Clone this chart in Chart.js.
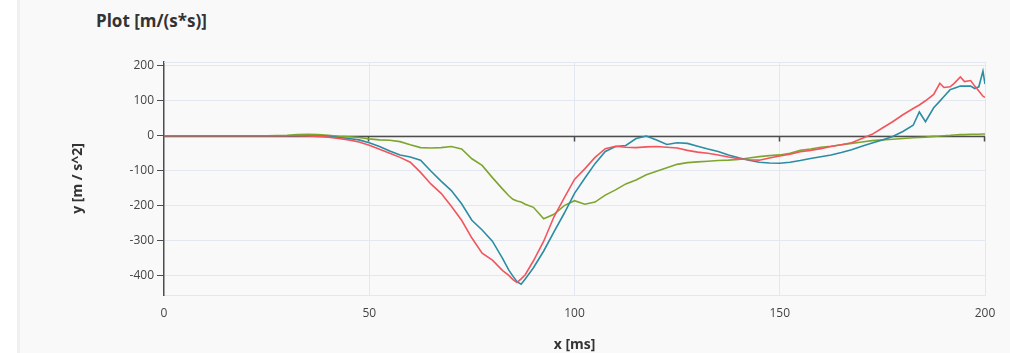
<!DOCTYPE html>
<html>
<head>
<meta charset="utf-8">
<script src="https://cdn.jsdelivr.net/npm/chart.js@4.4.1/dist/chart.umd.min.js"></script>
<style>
  html, body { margin: 0; padding: 0; background: #ffffff; width: 1010px; height: 353px; overflow: hidden; }
  #panel { position: absolute; left: 17px; top: 0; width: 990px; height: 353px; background: #f9f9f9; border-left: 3px solid #f0f0f0; }
  #title { position: absolute; left: 76px; top: 10px; font-family: "Open Sans", sans-serif; font-weight: 700; font-size: 17px; line-height: 22px; color: #333; white-space: nowrap; }
  #chart { position: absolute; left: 0; top: 40px; }
</style>
</head>
<body>
<div id="panel">
  <div id="title">Plot [m/(s*s)]</div>
  <canvas id="chart" width="990" height="313"></canvas>
</div>
<script>
// ---- data ----
const xs = [
  0, 5, 10, 15, 20, 25, 30, 32.5, 35, 37.5,
  40, 42.5, 45, 47.5, 50, 52.5, 55, 57.5, 60, 62.5,
  65, 67.5, 70, 72.5, 75, 77.5, 80, 82.5, 84, 85,
  86, 87, 88, 90, 92.5, 95, 97.5, 100, 102.5, 105,
  107.5, 110, 112.5, 115, 117.5, 120, 122.5, 125, 127.5, 130,
  132.5, 135, 137.5, 140, 142.5, 145, 147.5, 150, 152.5, 155,
  157.5, 160, 162.5, 165, 167.5, 170, 172.5, 175, 177.5, 180,
  182.5, 184, 185.5, 187.5, 189, 190, 191.5, 192.5, 194, 195,
  196.5, 197.5, 198.5, 199.5, 200
];
const redSeries = [
  0, 0, 0, 0, 0, 0, 0, 0, -1, -2,
  -4, -8, -12, -18, -27, -39, -50, -62, -76, -105,
  -138, -165, -202, -242, -293, -336, -356, -386, -400, -412,
  -420, -410, -398, -358, -302, -232, -178, -125, -95, -62,
  -37, -30, -33, -34, -32, -31, -33, -35, -42, -47,
  -50, -55, -61, -66, -69, -70, -64, -58, -53, -46,
  -42, -37, -31, -26, -20, -8, 4, 22, 40, 60,
  78, 88, 100, 118, 150, 138, 140, 150, 168, 155,
  158, 142, 128, 113, 110
];
const tealSeries = [
  0, 0, 0, 0, 0, 0, 0, 0, 0, -1,
  -2, -5, -8, -12, -20, -31, -44, -55, -61, -70,
  -101, -130, -157, -195, -242, -270, -302, -352, -385, -402,
  -418, -425, -410, -378, -330, -275, -222, -165, -122, -80,
  -45, -31, -28, -8, -1, -12, -25, -20, -22, -30,
  -38, -45, -55, -63, -70, -76, -78, -79, -76, -71,
  -65, -60, -55, -48, -40, -30, -21, -12, -2, 12,
  30, 68, 40, 80, 99, 112, 132, 136, 142, 142,
  142, 135, 140, 185, 148
];
const greenSeries = [
  0, 0, 0, 0, 0, 0, 1, 3, 4, 3,
  1, -2, -3, -5, -9, -12, -13, -17, -26, -34,
  -35, -34, -31, -38, -66, -85, -120, -153, -172, -182,
  -187, -190, -196, -205, -238, -225, -200, -186, -196, -190,
  -170, -155, -138, -127, -112, -102, -92, -82, -77, -75,
  -73, -71, -70, -68, -64, -60, -57, -55, -50, -42,
  -38, -33, -30, -26, -22, -18, -14, -12, -10, -8,
  -6, -5, -4, -2, -1, 0, 1, 2, 3, 3,
  4, 4, 4, 5, 5
];
const yTickValues = [-400, -300, -200, -100, 0, 100, 200];
const xTickValues = [0, 50, 100, 150, 200];
const xRange = [0, 200];
const yRange = [-456, 211];

// ---- styling ----
const gridColor = '#e2e7f0';
const axisColor = '#4d4d4d';
const font = '"Open Sans", sans-serif';

const toPoints = (ys) => xs.map((x, i) => ({ x: x, y: ys[i] }));

const zeroAxisPlugin = {
  id: 'zeroAxis',
  beforeDatasetsDraw(chart) {
    const { ctx, chartArea, scales } = chart;
    const x = scales.x, y = scales.y;
    ctx.save();
    ctx.strokeStyle = gridColor;
    ctx.lineWidth = 1;
    ctx.beginPath();
    ctx.moveTo(chartArea.left, Math.round(chartArea.top) + 0.5);
    ctx.lineTo(chartArea.right, Math.round(chartArea.top) + 0.5);
    ctx.stroke();
    const py = Math.round(y.getPixelForValue(0)) + 0.5;
    ctx.strokeStyle = axisColor;
    ctx.lineWidth = 1.5;
    ctx.beginPath();
    ctx.moveTo(chartArea.left, py);
    ctx.lineTo(chartArea.right, py);
    xTickValues.forEach(v => {
      if (v === 0) return;
      const px = Math.round(x.getPixelForValue(v)) - 0.5;
      ctx.moveTo(px, py);
      ctx.lineTo(px, py + 5);
    });
    ctx.stroke();
    ctx.restore();
  }
};

new Chart(document.getElementById('chart'), {
  type: 'line',
  data: {
    datasets: [
      { data: toPoints(redSeries), borderColor: '#f2555e', borderWidth: 1.6 },
      { data: toPoints(tealSeries), borderColor: '#2b8ca3', borderWidth: 1.6 },
      { data: toPoints(greenSeries), borderColor: '#7ea62e', borderWidth: 1.6 }
    ]
  },
  options: {
    responsive: false,
    animation: false,
    devicePixelRatio: 1,
    elements: { point: { radius: 0 }, line: { tension: 0 } },
    layout: { padding: { left: 0, right: 25, top: 22, bottom: 0 } },
    plugins: { legend: { display: false }, tooltip: { enabled: false }, title: { display: false } },
    scales: {
      x: {
        type: 'linear',
        min: xRange[0],
        max: xRange[1],
        afterBuildTicks: (scale) => { scale.ticks = xTickValues.map(v => ({ value: v })); },
        afterFit: (scale) => { scale.height = 58; },
        border: { display: true, color: gridColor, width: 1 },
        grid: {
          drawTicks: false,
          color: (c) => (c.tick && c.tick.value === 0) ? 'rgba(0,0,0,0)' : gridColor,
          lineWidth: 1
        },
        ticks: { padding: 11, color: '#444', font: { family: font, size: 12 }, maxRotation: 0, autoSkip: false },
        title: {
          display: true,
          text: 'x [ms]',
          color: '#333',
          font: { family: font, size: 14, weight: 'bold' },
          padding: { top: 0, bottom: 0 }
        }
      },
      y: {
        type: 'linear',
        min: yRange[0],
        max: yRange[1],
        afterBuildTicks: (scale) => { scale.ticks = yTickValues.map(v => ({ value: v })); },
        afterFit: (scale) => { scale.width = 144; },
        border: { display: true, color: axisColor, width: 1.5 },
        grid: { color: gridColor, tickColor: axisColor, tickLength: 7, lineWidth: 1 },
        ticks: { padding: 3, color: '#444', font: { family: font, size: 12 } },
        title: {
          display: true,
          text: 'y [m / s^2]',
          color: '#333',
          font: { family: font, size: 14, weight: 'bold' },
          padding: { top: 50, bottom: 0 }
        }
      }
    }
  },
  plugins: [zeroAxisPlugin]
});
</script>
</body>
</html>
